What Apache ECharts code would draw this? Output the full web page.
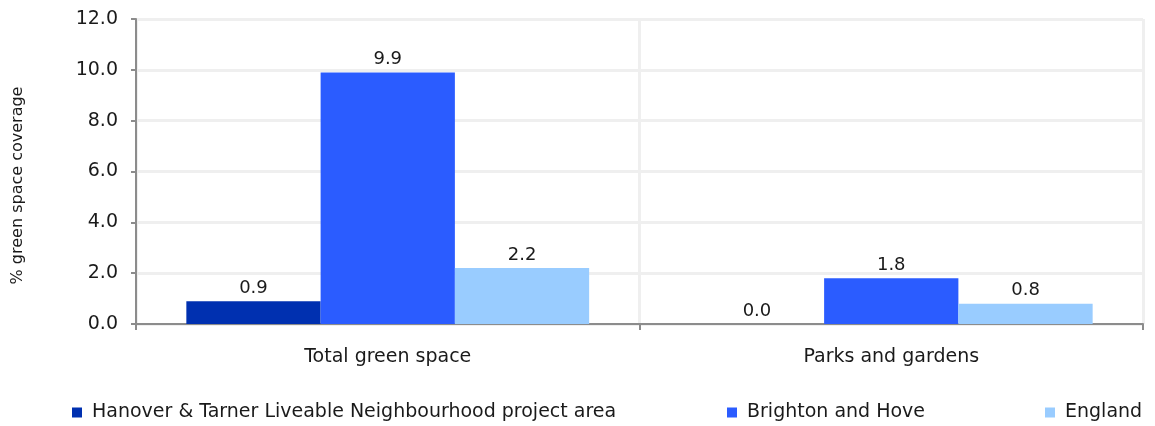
<!DOCTYPE html>
<html>
<head>
<meta charset="utf-8">
<script src="https://cdn.jsdelivr.net/npm/echarts@6/dist/echarts.min.js"></script>
<style>
  html, body { margin: 0; padding: 0; background: #fff; }
  #chart { width: 1155px; height: 426px; }
</style>
</head>
<body>
<div id="chart"></div>
<script>
// Green space coverage by area
const categories = ['Total green space', 'Parks and gardens'];
const seriesNames = [
  'Hanover & Tarner Liveable Neighbourhood project area',
  'Brighton and Hove',
  'England'
];
const hanoverValues = [0.9, 0.0];
const brightonValues = [9.9, 1.8];
const englandValues = [2.2, 0.8];
const seriesColors = ['#0030B0', '#2B5CFF', '#99CCFF'];

const FONT = 'DejaVu Sans, Verdana, sans-serif';
const TEXT = '#1a1a1a';

const chart = echarts.init(document.getElementById('chart'), null, { renderer: 'canvas' });

function barSeries(name, data, color) {
  return {
    name: name,
    type: 'bar',
    data: data,
    barGap: '0%',
    barCategoryGap: '20%',
    itemStyle: { color: color },
    label: {
      show: true,
      position: 'top',
      distance: 4,
      color: TEXT,
      fontFamily: FONT,
      fontSize: 18,
      formatter: p => p.value.toFixed(1)
    }
  };
}

const legendLefts = [72, 727, 1045];

chart.setOption({
  animation: false,
  backgroundColor: '#ffffff',
  textStyle: { fontFamily: FONT, color: TEXT },
  grid: { left: 136, right: 12, top: 19, bottom: 102, containLabel: false },
  legend: seriesNames.map((n, i) => ({
    data: [n],
    left: legendLefts[i],
    top: 403,
    padding: 0,
    icon: 'rect',
    itemWidth: 10,
    itemHeight: 10,
    itemGap: 10,
    textStyle: { fontFamily: FONT, fontSize: 19, color: TEXT, padding: [0, 0, 0, 5] }
  })),
  xAxis: {
    type: 'category',
    data: categories,
    axisLine: { show: true, lineStyle: { color: '#8c8c8c', width: 2 } },
    axisTick: { show: true, length: 6, lineStyle: { color: '#8c8c8c', width: 2 } },
    axisLabel: { color: TEXT, fontFamily: FONT, fontSize: 19, margin: 24 },
    splitLine: { show: true, lineStyle: { color: '#efefef', width: 3 } }
  },
  yAxis: {
    type: 'value',
    min: 0,
    max: 12,
    interval: 2,
    name: '% green space coverage',
    nameLocation: 'middle',
    nameGap: 110,
    nameTextStyle: { color: TEXT, fontFamily: FONT, fontSize: 16, padding: [0, 28, 0, 0] },
    axisLine: { show: true, lineStyle: { color: '#8c8c8c', width: 2 } },
    axisTick: { show: true, length: 5, lineStyle: { color: '#8c8c8c', width: 2 } },
    axisLabel: {
      color: TEXT, fontFamily: FONT, fontSize: 19, margin: 18,
      formatter: v => v.toFixed(1)
    },
    splitLine: { show: true, lineStyle: { color: '#efefef', width: 3 } }
  },
  series: [
    barSeries(seriesNames[0], hanoverValues, seriesColors[0]),
    barSeries(seriesNames[1], brightonValues, seriesColors[1]),
    barSeries(seriesNames[2], englandValues, seriesColors[2])
  ]
});
</script>
</body>
</html>
